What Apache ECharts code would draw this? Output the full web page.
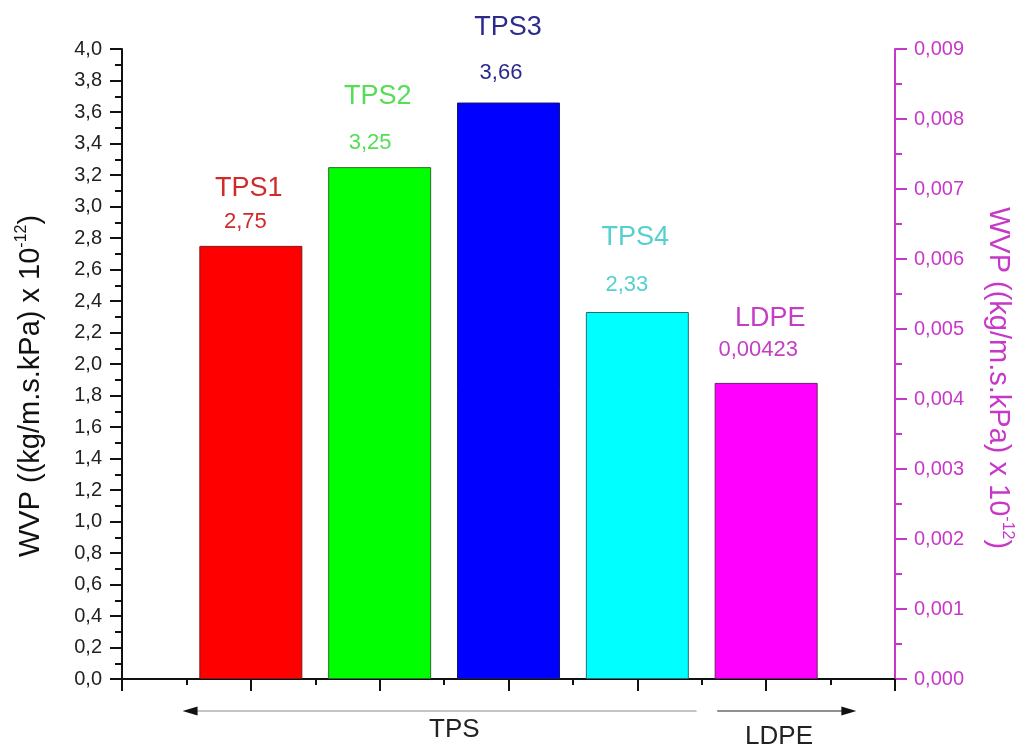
<!DOCTYPE html>
<html>
<head>
<meta charset="utf-8">
<script src="https://cdn.jsdelivr.net/npm/echarts@6/dist/echarts.min.js"></script>
<style>
  html, body { margin: 0; padding: 0; background: #fff; }
  #chart { width: 1029px; height: 749px; }
</style>
</head>
<body>
<div id="chart"></div>
<script>
// ---- data ----
const categories = ['TPS1', 'TPS2', 'TPS3', 'TPS4', 'LDPE'];
const xPositions = [1, 2, 3, 4, 5];
const tpsValues = [2.75, 3.25, 3.66, 2.33];     // left axis (x 10^-12)
const ldpeValues = [0.00423];                   // right axis
const groupLabels = ['TPS', 'LDPE'];
const leftAxisRange = [0, 4.0, 0.2];
const rightAxisRange = [0, 0.009, 0.001];

// ---- styling / layout ----
const FONT = 'Arial, "Liberation Sans", Helvetica, sans-serif';
const barColors = ['#ff0000', '#00ff00', '#0000ff', '#00ffff', '#ff00ff'];
const borderColors = ['#7a1818', '#2a6a2a', '#16166a', '#2a6a6a', '#6a206a'];
const labelColors = ['#d02a2a', '#55dd55', '#2b2b8c', '#55d0d0', '#c43ec4'];
const MAGENTA = '#c838c8';
const labelLayout = [
  { d: 12.5, L: 46, dx: -2, vs: 3.5 },
  { d: 13.5, L: 70, dx: -2, vs: 7.5 },
  { d: 18.5, L: 69, dx: -0.5, vs: 7 },
  { d: 16.5, L: 71, dx: -2, vs: 8.5 },
  { d: 22, L: 40, dx: 4, vs: 12 }
];
const arrowLayout = {
  left: [0.47, 4.46], right: [4.62, 5.7], dy: 32,
  textX: [2.58, 5.1], textDy: [51, 58]
};

function fmtVal(v) { return String(v).replace('.', ','); }

function item(i, value) {
  const lay = labelLayout[i];
  return {
    value: [xPositions[i], value],
    itemStyle: { color: barColors[i], borderColor: borderColors[i], borderWidth: 1 },
    label: {
      show: true, position: 'top', distance: lay.d, offset: [lay.dx, 0],
      formatter: '{n|' + categories[i] + '}\n{v|' + fmtVal(value) + '}',
      rich: {
        n: { fontSize: 27, lineHeight: lay.L, color: labelColors[i], fontFamily: FONT },
        v: { fontSize: 22, lineHeight: 22, color: labelColors[i], fontFamily: FONT, padding: [0, 2 * lay.vs, 0, 0] }
      }
    }
  };
}

const chart = echarts.init(document.getElementById('chart'), null, { renderer: 'canvas' });

const black = '#111';
const option = {
  animation: false,
  backgroundColor: '#fff',
  textStyle: { fontFamily: FONT },
  grid: { left: 122, right: 134, top: 49, bottom: 70, containLabel: false },
  xAxis: {
    type: 'value', min: 0, max: 6, interval: 1,
    axisLine: { show: true, onZero: false, lineStyle: { color: black, width: 2 } },
    axisTick: { show: true, length: 12, lineStyle: { color: black, width: 2 } },
    minorTick: { show: true, splitNumber: 2, length: 6, lineStyle: { color: black, width: 2 } },
    axisLabel: { show: false },
    splitLine: { show: false },
    minorSplitLine: { show: false }
  },
  yAxis: [
    {
      type: 'value', position: 'left',
      min: leftAxisRange[0], max: leftAxisRange[1], interval: leftAxisRange[2],
      axisLine: { show: true, lineStyle: { color: black, width: 2 } },
      axisTick: { show: true, length: 12, lineStyle: { color: black, width: 2 } },
      minorTick: { show: true, splitNumber: 2, length: 7, lineStyle: { color: black, width: 2 } },
      axisLabel: { formatter: v => v.toFixed(1).replace('.', ','), fontSize: 20, color: '#222', margin: 20, fontFamily: FONT },
      splitLine: { show: false },
      minorSplitLine: { show: false },
      name: 'WVP ((kg/m.s.kPa) x 10{sup|-12})',
      nameLocation: 'middle', nameGap: 74, nameRotate: 90,
      nameTextStyle: {
        fontSize: 29, color: '#111', fontFamily: FONT, lineHeight: 34,
        padding: [0, 44, 0, 0],
        rich: { sup: { fontSize: 16, verticalAlign: 'top', lineHeight: 34, color: '#111', fontFamily: FONT } }
      }
    },
    {
      type: 'value', position: 'right',
      min: rightAxisRange[0], max: rightAxisRange[1], interval: rightAxisRange[2],
      axisLine: { show: true, lineStyle: { color: MAGENTA, width: 2 } },
      axisTick: { show: true, length: 12, lineStyle: { color: MAGENTA, width: 2 } },
      minorTick: { show: true, splitNumber: 2, length: 7, lineStyle: { color: MAGENTA, width: 2 } },
      axisLabel: { formatter: v => v.toFixed(3).replace('.', ','), fontSize: 20, color: MAGENTA, margin: 19, fontFamily: FONT },
      splitLine: { show: false },
      minorSplitLine: { show: false },
      name: 'WVP ((kg/m.s.kPa) x 10{sup|-12})',
      nameLocation: 'middle', nameGap: 86, nameRotate: -90,
      nameTextStyle: {
        fontSize: 29, color: MAGENTA, fontFamily: FONT, lineHeight: 34,
        padding: [0, 0, 0, 28],
        rich: { sup: { fontSize: 16, verticalAlign: 'top', lineHeight: 34, color: MAGENTA, fontFamily: FONT } }
      }
    }
  ],
  series: [
    {
      type: 'bar', name: 'TPS', xAxisIndex: 0, yAxisIndex: 0,
      barWidth: 103, barGap: '-100%',
      data: tpsValues.map((v, i) => item(i, v))
    },
    {
      type: 'bar', name: 'LDPE', xAxisIndex: 0, yAxisIndex: 1,
      barWidth: 103, barGap: '-100%',
      data: ldpeValues.map((v, j) => item(tpsValues.length + j, v))
    }
  ]
};
chart.setOption(option);

// bottom group annotations (arrows + labels), positioned via the x axis scale
const px = v => chart.convertToPixel({ xAxisIndex: 0 }, v);
const yBase = chart.convertToPixel({ yAxisIndex: 0 }, 0);
const ay = yBase + arrowLayout.dy;
const lx0 = px(arrowLayout.left[0]), lx1 = px(arrowLayout.left[1]);
const rx0 = px(arrowLayout.right[0]), rx1 = px(arrowLayout.right[1]);
chart.setOption({
  graphic: [
    { type: 'line', shape: { x1: lx0 + 10, y1: ay, x2: lx1, y2: ay }, style: { stroke: '#8a8a8a', lineWidth: 1.2 } },
    { type: 'polygon', shape: { points: [[lx0, ay], [lx0 + 15, ay - 4.5], [lx0 + 15, ay + 4.5]] }, style: { fill: '#111' } },
    { type: 'line', shape: { x1: rx0, y1: ay, x2: rx1 - 10, y2: ay }, style: { stroke: '#222', lineWidth: 1.2 } },
    { type: 'polygon', shape: { points: [[rx1, ay], [rx1 - 15, ay - 4.5], [rx1 - 15, ay + 4.5]] }, style: { fill: '#111' } },
    { type: 'text', x: px(arrowLayout.textX[0]), y: yBase + arrowLayout.textDy[0],
      style: { text: groupLabels[0], fontSize: 26, fontFamily: FONT, fill: '#222', align: 'center', verticalAlign: 'middle' } },
    { type: 'text', x: px(arrowLayout.textX[1]), y: yBase + arrowLayout.textDy[1],
      style: { text: groupLabels[1], fontSize: 26, fontFamily: FONT, fill: '#222', align: 'center', verticalAlign: 'middle' } }
  ]
});
</script>
</body>
</html>
